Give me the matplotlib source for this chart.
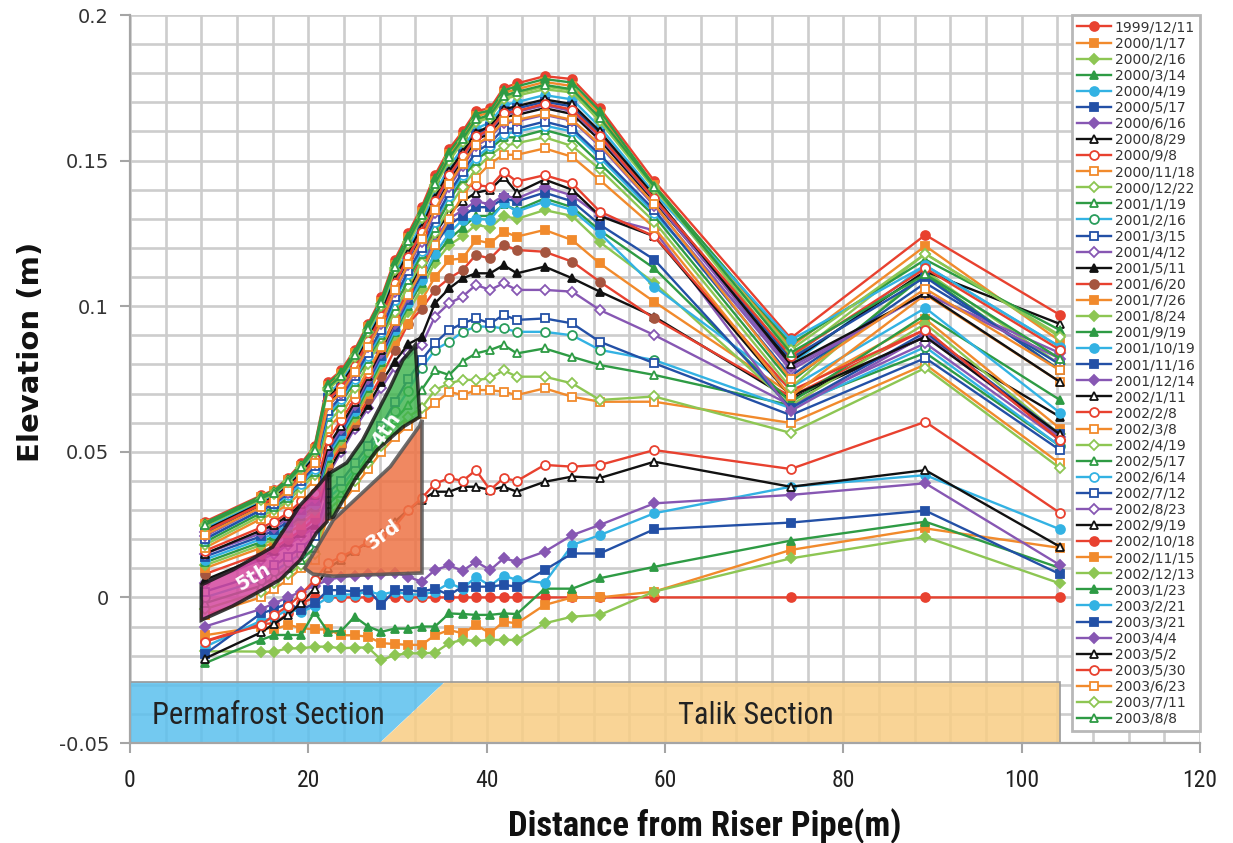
import matplotlib
matplotlib.use('Agg')
import matplotlib.pyplot as plt
from matplotlib.patches import Polygon
from matplotlib.ticker import MultipleLocator, FixedLocator, FixedFormatter
from matplotlib import font_manager as fm


def pick(names, default='DejaVu Sans'):
    for n in names:
        try:
            fm.findfont(fm.FontProperties(family=n), fallback_to_default=False)
            return n
        except Exception:
            continue
    return default


NARROW = pick(['Liberation Sans Narrow', 'Roboto Condensed'], 'Liberation Sans')

# ---------------- data ----------------
distance = [8.4, 14.7, 16.2, 17.7, 19.2, 20.7, 22.2, 23.7, 25.2, 26.7, 28.2, 29.7, 31.2, 32.7,
            34.2, 35.8, 37.3, 38.8, 40.4, 41.9, 43.4, 46.5, 49.6, 52.7, 58.8, 74.1, 89.2, 104.3]

dates = ['1999/12/11', '2000/1/17', '2000/2/16', '2000/3/14', '2000/4/19', '2000/5/17', '2000/6/16',
         '2000/8/29', '2000/9/8', '2000/11/18', '2000/12/22', '2001/1/19', '2001/2/16', '2001/3/15',
         '2001/4/12', '2001/5/11', '2001/6/20', '2001/7/26', '2001/8/24', '2001/9/19', '2001/10/19',
         '2001/11/16', '2001/12/14', '2002/1/11', '2002/2/8', '2002/3/8', '2002/4/19', '2002/5/17',
         '2002/6/14', '2002/7/12', '2002/8/23', '2002/9/19', '2002/10/18', '2002/11/15', '2002/12/13',
         '2003/1/23', '2003/2/21', '2003/3/21', '2003/4/4', '2003/5/2', '2003/5/30', '2003/6/23',
         '2003/7/11', '2003/8/8']

s01 = [-0.015, -0.009, -0.009, -0.0055, -0.002, 0.0, 0.0, 0.0, 0.0, 0.0, 0.0, 0.0, 0.0, 0.0, 0.0, 0.0, 0.0, 0.0, 0.0, 0.0, 0.0, 0.0, 0.0, 0.0, 0.0, 0.0, 0.0, 0.0]
s02 = [-0.013, -0.010, -0.011, -0.0094, -0.0105, -0.011, -0.011, -0.013, -0.013, -0.0135, -0.0157, -0.016, -0.0163, -0.0163, -0.013, -0.0112, -0.0123, -0.0095, -0.0123, -0.0083, -0.0089, -0.0026, 0.0, 0.0, 0.002, 0.0163, 0.0237, 0.017]
s03 = [-0.0185, -0.0186, -0.0186, -0.0175, -0.0175, -0.0169, -0.0169, -0.0175, -0.0172, -0.0172, -0.0215, -0.0198, -0.0192, -0.0192, -0.019, -0.0157, -0.0146, -0.015, -0.0146, -0.0146, -0.0146, -0.0089, -0.0066, -0.006, 0.002, 0.0134, 0.0208, 0.0048]
s04 = [-0.0226, -0.0146, -0.0129, -0.0129, -0.0129, -0.005, -0.0118, -0.0115, -0.0066, -0.010, -0.0118, -0.0107, -0.0107, -0.010, -0.010, -0.0055, -0.0057, -0.006, -0.006, -0.0055, -0.0057, 0.003, 0.003, 0.0066, 0.0105, 0.0195, 0.026, 0.0101]
s05 = [-0.017, -0.008, -0.007, -0.004, -0.005, -0.003, 0.0, 0.001, 0.001, 0.002, 0.001, 0.002, 0.001, 0.001, 0.002, 0.0049, 0.003, 0.007, 0.004, 0.0075, 0.006, 0.005, 0.018, 0.0214, 0.0289, 0.038, 0.042, 0.0234]
s06 = [-0.0195, -0.0055, -0.004, -0.002, -0.0043, -0.002, 0.0025, 0.0025, 0.002, 0.0027, -0.0026, 0.0025, 0.0025, 0.002, 0.003, 0.0008, 0.0037, 0.0037, 0.0037, 0.0043, 0.0037, 0.0094, 0.0151, 0.0151, 0.0234, 0.0257, 0.0298, 0.008]
s07 = [-0.010, -0.004, -0.002, 0.0, 0.002, 0.004, 0.006, 0.007, 0.0075, 0.008, 0.008, 0.0085, 0.0071, 0.0054, 0.0094, 0.011, 0.0091, 0.0123, 0.0094, 0.0134, 0.0123, 0.0157, 0.0214, 0.0249, 0.0323, 0.0352, 0.0392, 0.0111]
s08 = [-0.021, -0.012, -0.009, -0.006, -0.002, 0.003, 0.010, 0.013, 0.016, 0.019, 0.022, 0.026, 0.030, 0.0334, 0.0363, 0.0363, 0.038, 0.038, 0.0369, 0.038, 0.0363, 0.0397, 0.0415, 0.041, 0.0466, 0.038, 0.0437, 0.0174]
s09 = [-0.0152, -0.0095, -0.006, -0.003, 0.001, 0.006, 0.0117, 0.014, 0.0163, 0.019, 0.0215, 0.0243, 0.030, 0.034, 0.039, 0.041, 0.040, 0.0437, 0.0369, 0.041, 0.040, 0.0455, 0.0449, 0.0455, 0.0506, 0.0441, 0.0603, 0.029]
s10 = [-0.006, 0.000, 0.003, 0.006, 0.010, 0.013, 0.028, 0.032, 0.038, 0.044, 0.050, 0.055, 0.059, 0.063, 0.0667, 0.0706, 0.0695, 0.0712, 0.0712, 0.0706, 0.0695, 0.0718, 0.0689, 0.0672, 0.0672, 0.0599, 0.080, 0.046]
s11 = [-0.004, 0.002, 0.005, 0.008, 0.011, 0.015, 0.030, 0.034, 0.040, 0.046, 0.052, 0.058, 0.062, 0.065, 0.0712, 0.0735, 0.0747, 0.0747, 0.0752, 0.078, 0.0758, 0.0758, 0.0735, 0.0678, 0.069, 0.0565, 0.0788, 0.0444]
s12 = [-0.002, 0.004, 0.007, 0.010, 0.013, 0.017, 0.032, 0.036, 0.042, 0.048, 0.055, 0.061, 0.066, 0.0712, 0.078, 0.0764, 0.081, 0.0838, 0.085, 0.0867, 0.0838, 0.0855, 0.0826, 0.0798, 0.0764, 0.066, 0.084, 0.052]
s13 = [0.000, 0.006, 0.009, 0.012, 0.015, 0.019, 0.034, 0.038, 0.044, 0.050, 0.057, 0.064, 0.071, 0.0787, 0.085, 0.0878, 0.0912, 0.093, 0.093, 0.0924, 0.0912, 0.0912, 0.090, 0.085, 0.0815, 0.065, 0.086, 0.052]
s14 = [0.002, 0.008, 0.011, 0.014, 0.017, 0.021, 0.036, 0.040, 0.046, 0.052, 0.059, 0.067, 0.075, 0.0815, 0.0873, 0.0918, 0.0941, 0.0958, 0.0941, 0.097, 0.0953, 0.0958, 0.0941, 0.0878, 0.0804, 0.0626, 0.0822, 0.0506]
s15 = [0.005, 0.013, 0.015, 0.018, 0.021, 0.024, 0.042, 0.050, 0.058, 0.065, 0.072, 0.079, 0.084, 0.0866, 0.0964, 0.101, 0.1033, 0.1073, 0.1056, 0.1079, 0.1056, 0.1056, 0.105, 0.0987, 0.0901, 0.066, 0.0873, 0.054]
s16 = [0.006, 0.014, 0.016, 0.019, 0.022, 0.025, 0.043, 0.051, 0.059, 0.066, 0.074, 0.081, 0.087, 0.0894, 0.101, 0.1061, 0.1096, 0.1113, 0.1113, 0.1141, 0.1113, 0.1136, 0.1096, 0.105, 0.0964, 0.068, 0.0895, 0.062]
s17 = [0.008, 0.015, 0.017, 0.020, 0.023, 0.027, 0.045, 0.052, 0.060, 0.068, 0.076, 0.085, 0.094, 0.099, 0.1056, 0.1096, 0.1124, 0.1176, 0.1164, 0.121, 0.1193, 0.1187, 0.1153, 0.1084, 0.0958, 0.069, 0.092, 0.054]
s18 = [0.010, 0.017, 0.019, 0.022, 0.025, 0.029, 0.046, 0.053, 0.061, 0.070, 0.079, 0.088, 0.094, 0.102, 0.110, 0.1159, 0.1164, 0.1227, 0.1216, 0.1256, 0.1239, 0.1262, 0.1227, 0.1147, 0.1015, 0.070, 0.0956, 0.058]
s19 = [0.011, 0.018, 0.020, 0.023, 0.027, 0.030, 0.047, 0.054, 0.062, 0.071, 0.080, 0.090, 0.098, 0.106, 0.115, 0.121, 0.124, 0.128, 0.127, 0.131, 0.130, 0.133, 0.131, 0.122, 0.108, 0.066, 0.094, 0.056]
s20 = [0.012, 0.019, 0.021, 0.024, 0.028, 0.031, 0.048, 0.055, 0.063, 0.072, 0.081, 0.091, 0.100, 0.108, 0.117, 0.123, 0.127, 0.131, 0.131, 0.135, 0.133, 0.137, 0.134, 0.126, 0.113, 0.067, 0.097, 0.0678]
s21 = [0.013, 0.020, 0.022, 0.025, 0.029, 0.032, 0.049, 0.056, 0.064, 0.073, 0.082, 0.092, 0.101, 0.109, 0.118, 0.125, 0.1297, 0.130, 0.1297, 0.1353, 0.1325, 0.1359, 0.133, 0.125, 0.1067, 0.072, 0.0994, 0.0634]
s22 = [0.014, 0.021, 0.023, 0.026, 0.030, 0.033, 0.050, 0.057, 0.065, 0.074, 0.083, 0.093, 0.102, 0.111, 0.121, 0.128, 0.131, 0.134, 0.134, 0.137, 0.136, 0.139, 0.136, 0.128, 0.116, 0.065, 0.091, 0.056]
s23 = [0.015, 0.022, 0.024, 0.027, 0.031, 0.034, 0.051, 0.058, 0.066, 0.075, 0.084, 0.094, 0.103, 0.113, 0.123, 0.130, 0.133, 0.136, 0.135, 0.138, 0.137, 0.141, 0.138, 0.131, 0.126, 0.064, 0.090, 0.055]
s24 = [0.015, 0.023, 0.025, 0.028, 0.032, 0.035, 0.052, 0.059, 0.067, 0.076, 0.085, 0.095, 0.105, 0.115, 0.125, 0.132, 0.136, 0.139, 0.140, 0.1445, 0.139, 0.1435, 0.140, 0.131, 0.124, 0.069, 0.0895, 0.056]
s25 = [0.016, 0.024, 0.026, 0.029, 0.033, 0.036, 0.054, 0.061, 0.068, 0.077, 0.086, 0.096, 0.106, 0.117, 0.127, 0.1393, 0.141, 0.1416, 0.141, 0.1462, 0.1428, 0.145, 0.1422, 0.1325, 0.124, 0.071, 0.092, 0.054]
s26 = [0.017, 0.027, 0.029, 0.032, 0.036, 0.040, 0.058, 0.063, 0.070, 0.078, 0.086, 0.095, 0.104, 0.112, 0.121, 0.130, 0.138, 0.144, 0.149, 0.152, 0.152, 0.1542, 0.1513, 0.1433, 0.127, 0.069, 0.104, 0.074]
s27 = [0.018, 0.028, 0.030, 0.033, 0.0375, 0.042, 0.060, 0.065, 0.072, 0.080, 0.089, 0.098, 0.107, 0.115, 0.125, 0.134, 0.141, 0.147, 0.152, 0.155, 0.156, 0.158, 0.155, 0.147, 0.129, 0.072, 0.112, 0.080]
s28 = [0.019, 0.029, 0.031, 0.034, 0.039, 0.043, 0.062, 0.067, 0.074, 0.082, 0.090, 0.100, 0.109, 0.118, 0.127, 0.136, 0.144, 0.150, 0.154, 0.158, 0.158, 0.1605, 0.158, 0.149, 0.131, 0.074, 0.1107, 0.078]
s29 = [0.020, 0.030, 0.032, 0.035, 0.039, 0.044, 0.063, 0.068, 0.075, 0.083, 0.091, 0.102, 0.111, 0.119, 0.129, 0.138, 0.145, 0.151, 0.155, 0.159, 0.160, 0.162, 0.160, 0.151, 0.132, 0.080, 0.114, 0.086]
s30 = [0.020, 0.030, 0.032, 0.036, 0.040, 0.045, 0.064, 0.069, 0.076, 0.084, 0.092, 0.103, 0.112, 0.120, 0.130, 0.139, 0.146, 0.153, 0.156, 0.161, 0.161, 0.1634, 0.161, 0.152, 0.133, 0.076, 0.108, 0.080]
s31 = [0.021, 0.031, 0.033, 0.036, 0.041, 0.046, 0.066, 0.070, 0.077, 0.086, 0.094, 0.105, 0.114, 0.122, 0.132, 0.141, 0.148, 0.155, 0.158, 0.163, 0.1635, 0.1657, 0.1637, 0.155, 0.1345, 0.078, 0.1044, 0.0839]
s32 = [0.022, 0.0315, 0.0335, 0.037, 0.0416, 0.0467, 0.067, 0.071, 0.078, 0.087, 0.0955, 0.1068, 0.1158, 0.1243, 0.1344, 0.1434, 0.150, 0.157, 0.1596, 0.165, 0.1657, 0.168, 0.166, 0.157, 0.136, 0.081, 0.112, 0.0939]
s33 = [0.026, 0.035, 0.037, 0.041, 0.046, 0.052, 0.074, 0.078, 0.085, 0.094, 0.103, 0.116, 0.125, 0.134, 0.145, 0.154, 0.160, 0.167, 0.168, 0.175, 0.1765, 0.179, 0.178, 0.168, 0.143, 0.089, 0.1245, 0.097]
s34 = [0.0253, 0.0344, 0.0364, 0.0403, 0.0452, 0.051, 0.0727, 0.0768, 0.0838, 0.0927, 0.1016, 0.1143, 0.1233, 0.1322, 0.1431, 0.1521, 0.1582, 0.1652, 0.1665, 0.1732, 0.1745, 0.177, 0.1756, 0.166, 0.1417, 0.086, 0.1207, 0.088]
s35 = [0.0247, 0.0339, 0.0359, 0.0397, 0.0446, 0.0503, 0.0718, 0.0759, 0.0829, 0.0918, 0.1006, 0.1131, 0.1221, 0.1309, 0.1416, 0.1506, 0.1569, 0.1638, 0.1653, 0.1718, 0.1731, 0.1754, 0.1742, 0.1643, 0.1408, 0.082, 0.118, 0.090]
s36 = [0.0256, 0.0347, 0.0367, 0.0406, 0.0456, 0.0515, 0.0734, 0.0774, 0.0844, 0.0934, 0.1023, 0.1152, 0.1242, 0.1331, 0.144, 0.153, 0.1591, 0.1661, 0.1672, 0.1741, 0.1755, 0.178, 0.1768, 0.167, 0.1414, 0.087, 0.116, 0.0918]
s37 = [0.0237, 0.0329, 0.0349, 0.0387, 0.0434, 0.0489, 0.0698, 0.0741, 0.0811, 0.0898, 0.0986, 0.1105, 0.1195, 0.1283, 0.1388, 0.1478, 0.1543, 0.161, 0.1631, 0.169, 0.1701, 0.1725, 0.171, 0.1615, 0.1388, 0.0884, 0.114, 0.0861]
s38 = [0.0229, 0.0322, 0.0342, 0.0379, 0.0425, 0.0478, 0.0684, 0.0728, 0.0798, 0.0884, 0.097, 0.1087, 0.1177, 0.1263, 0.1366, 0.1456, 0.1523, 0.159, 0.1614, 0.167, 0.1679, 0.1702, 0.1686, 0.159, 0.137, 0.082, 0.110, 0.078]
s39 = [0.0224, 0.032, 0.034, 0.0374, 0.042, 0.0472, 0.0676, 0.072, 0.079, 0.0876, 0.0962, 0.1076, 0.1166, 0.1252, 0.1354, 0.1444, 0.1512, 0.1578, 0.1604, 0.1658, 0.1667, 0.169, 0.167, 0.158, 0.1366, 0.079, 0.1044, 0.082]
s40 = [0.0231, 0.0324, 0.0344, 0.0381, 0.0428, 0.0482, 0.0689, 0.0732, 0.0802, 0.0889, 0.0976, 0.1093, 0.1183, 0.127, 0.1373, 0.1463, 0.153, 0.1596, 0.1619, 0.1676, 0.1687, 0.171, 0.1694, 0.16, 0.1379, 0.080, 0.1044, 0.074]
s41 = [0.0226, 0.032, 0.034, 0.0376, 0.042, 0.0474, 0.068, 0.0723, 0.0793, 0.088, 0.0965, 0.108, 0.117, 0.1256, 0.136, 0.145, 0.1516, 0.1583, 0.1608, 0.1663, 0.167, 0.1695, 0.1675, 0.1585, 0.137, 0.083, 0.113, 0.085]
s42 = [0.0215, 0.031, 0.033, 0.0365, 0.041, 0.046, 0.066, 0.0705, 0.0775, 0.086, 0.0945, 0.1055, 0.1145, 0.123, 0.133, 0.142, 0.149, 0.1555, 0.1585, 0.1635, 0.164, 0.166, 0.164, 0.1555, 0.135, 0.075, 0.106, 0.078]
s43 = [0.0245, 0.0336, 0.0356, 0.0395, 0.0443, 0.050, 0.0713, 0.0755, 0.0825, 0.0913, 0.1001, 0.1124, 0.1214, 0.1303, 0.141, 0.1499, 0.1563, 0.1631, 0.1648, 0.1711, 0.1723, 0.1745, 0.1734, 0.1635, 0.1403, 0.085, 0.118, 0.0895]
s44 = [0.0249, 0.034, 0.036, 0.0399, 0.0448, 0.0506, 0.0721, 0.0762, 0.0832, 0.0921, 0.101, 0.1135, 0.1225, 0.1314, 0.1421, 0.1511, 0.1574, 0.1642, 0.1657, 0.1722, 0.1736, 0.176, 0.1745, 0.1647, 0.1411, 0.084, 0.111, 0.082]

series = [s01, s02, s03, s04, s05, s06, s07, s08, s09, s10, s11, s12, s13, s14, s15, s16, s17, s18, s19, s20,
          s21, s22, s23, s24, s25, s26, s27, s28, s29, s30, s31, s32, s33, s34, s35, s36, s37, s38, s39, s40,
          s41, s42, s43, s44]

# highlighted zones (annotation shapes, in data units)
zone5_x = [8.0, 8.0, 11.5, 16.0, 19.1, 20.9, 22.1, 22.1, 20.9, 19.1, 16.8, 14.2, 11.5]
zone5_y = [-0.0078, 0.0043, 0.0094, 0.0173, 0.0317, 0.0376, 0.042, 0.026, 0.0221, 0.0128, 0.006, 0.0015, -0.003]
zone4_x = [22.4, 22.4, 24.3, 26.1, 29.2, 30.6, 32.0, 32.5, 30.6, 27.7, 25.4, 22.8]
zone4_y = [0.0273, 0.0427, 0.0462, 0.054, 0.0723, 0.0815, 0.0867, 0.062, 0.0585, 0.0506, 0.0413, 0.0276]
zone3_x = [32.75, 32.75, 22.8, 20.5, 19.6, 22.8, 29.2, 32.5]
zone3_y = [0.061, 0.0084, 0.0073, 0.008, 0.010, 0.0266, 0.0449, 0.059]

band_permafrost_x = [0, 28.0, 35.3, 0]
band_talik_x = [28.0, 104.3, 104.3, 35.3]
band_bottom, band_top = -0.05, -0.029

# ---------------- styling ----------------
palette = ['#E8412F', '#F18A2C', '#8DC653', '#2E9B44', '#33B2E3', '#2350A6', '#8757B3', '#111111']
markers = ['o', 's', 'D', '^', 'o', 's', 'D', '^']
filled = [1] * 7 + [0] + [0] * 7 + [1] + [1] * 7 + [0] + [0] * 7 + [0] + [1] * 7 + [0] + [0] * 4

fig = plt.figure(figsize=(12.33, 8.43), dpi=100)
ax = fig.add_axes([0.1054, 0.1186, 0.8678, 0.8636])
ax.set_xlim(0, 120)
ax.set_ylim(-0.05, 0.2)

ax.xaxis.set_major_locator(MultipleLocator(20))
ax.xaxis.set_minor_locator(MultipleLocator(4))
ax.yaxis.set_major_locator(FixedLocator([-0.05, 0, 0.05, 0.1, 0.15, 0.2]))
ax.yaxis.set_major_formatter(FixedFormatter(['-0.05', '0', '0.05', '0.1', '0.15', '0.2']))
ax.yaxis.set_minor_locator(MultipleLocator(0.01))
ax.set_axisbelow(True)
ax.grid(True, which='both', color='#cdcdcd', linewidth=1.9)

for sp in ['top', 'right']:
    ax.spines[sp].set_visible(False)
for sp in ['left', 'bottom']:
    ax.spines[sp].set_color('#a5a5a5')
    ax.spines[sp].set_linewidth(1.6)

ax.tick_params(which='minor', length=0)
ax.tick_params(which='major', length=7, width=1.5, color='#a5a5a5', direction='out')
ax.tick_params(axis='y', labelsize=14, pad=8, labelcolor='#333333')
ax.tick_params(axis='x', labelsize=17, pad=12, labelcolor='#222222')
for lab in ax.get_xticklabels():
    lab.set_fontfamily(NARROW)

# bottom band
ax.add_patch(Polygon(list(zip(band_permafrost_x, [band_bottom, band_bottom, band_top, band_top])),
                     closed=True, facecolor='#5BC0EE', alpha=0.85, edgecolor='none', zorder=1.2))
ax.add_patch(Polygon(list(zip(band_talik_x, [band_bottom, band_bottom, band_top, band_top])),
                     closed=True, facecolor='#F8CD84', alpha=0.85, edgecolor='none', zorder=1.2))
ax.add_patch(Polygon([(0, band_bottom), (104.3, band_bottom), (104.3, band_top), (0, band_top)],
                     closed=True, facecolor='none', edgecolor='#9a9a9a', linewidth=1.2, zorder=1.3))
ax.text(15.5, -0.0404, 'Permafrost Section', ha='center', va='center', fontsize=22,
        family=NARROW, color='#222222', zorder=1.5)
ax.text(70.2, -0.0404, 'Talik Section', ha='center', va='center', fontsize=22,
        family=NARROW, color='#222222', zorder=1.5)

# series
for i, (d, ys) in enumerate(zip(dates, series)):
    c = palette[i % 8]
    m = markers[i % 8]
    ms = 5.4 if m == 'D' else 6.4
    face = c if filled[i] else 'white'
    edge = c
    if i == 16:
        face = edge = '#A5553F'
    if i == 12:
        edge = '#2A9D5C'
    ax.plot(distance, ys, color=c, linewidth=1.7, marker=m, markersize=ms,
            markerfacecolor=face, markeredgecolor=edge, markeredgewidth=1.3,
            label=d, zorder=2 + i * 0.01)

# highlighted zones
ax.add_patch(Polygon(list(zip(zone5_x, zone5_y)), closed=True, facecolor='#D4479E', alpha=0.85,
                     edgecolor='#1a1a1a', linewidth=2.6, zorder=3.5))
ax.add_patch(Polygon(list(zip(zone4_x, zone4_y)), closed=True, facecolor='#3BB24A', alpha=0.8,
                     edgecolor='#111111', linewidth=2.6, zorder=3.5))
ax.add_patch(Polygon(list(zip(zone3_x, zone3_y)), closed=True, facecolor='#EE7345', alpha=0.85,
                     edgecolor='#555555', linewidth=2.6, zorder=3.4))
ax.text(13.8, 0.0072, '5th', color='white', fontsize=14, fontweight='bold', rotation=31,
        ha='center', va='center', zorder=4)
ax.text(28.7, 0.0575, '4th', color='white', fontsize=14, fontweight='bold', rotation=55,
        ha='center', va='center', zorder=4)
ax.text(28.4, 0.0214, '3rd', color='white', fontsize=14, fontweight='bold', rotation=36,
        ha='center', va='center', zorder=4)

# axis titles
ax.set_xlabel('Distance from Riser Pipe(m)', fontsize=25, fontweight='bold', family=NARROW, color='#111111')
ax.xaxis.label.set_va('center')
ax.xaxis.set_label_coords(0.537, -0.114)
ax.set_ylabel('Elevation (m)', fontsize=21, fontweight='bold', family='DejaVu Sans', color='#111111')
ax.yaxis.label.set_va('center')
ax.yaxis.label.set_ha('center')
ax.yaxis.set_label_coords(-0.0925, 0.537)

leg = ax.legend(loc='upper right', bbox_to_anchor=(1.0, 1.0), borderaxespad=0, fontsize=10,
                handlelength=2.45, handletextpad=0.25, labelspacing=0.15, borderpad=0.38,
                frameon=True, fancybox=False, framealpha=1.0, edgecolor='#b8b8b8')
leg.get_frame().set_linewidth(2)
leg.set_zorder(10)
for t in leg.get_texts():
    t.set_color('#333333')

fig.savefig('out.png', dpi=100)
